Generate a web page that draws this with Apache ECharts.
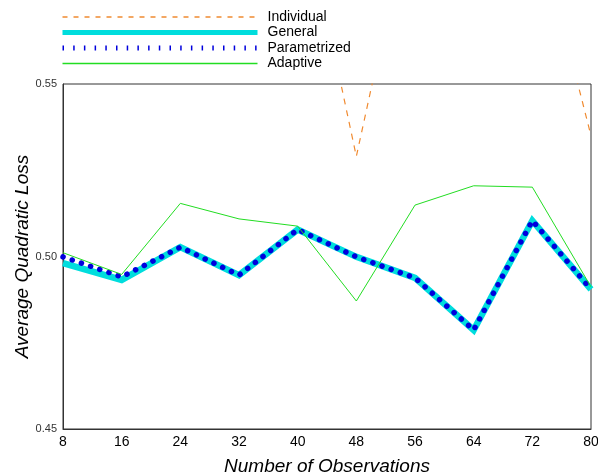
<!DOCTYPE html>
<html>
<head>
<meta charset="utf-8">
<script src="https://cdn.jsdelivr.net/npm/echarts@6/dist/echarts.min.js"></script>
<style>
  html, body { margin: 0; padding: 0; background: #fff; }
  #chart { width: 598px; height: 475px; }
</style>
</head>
<body>
<div id="chart"></div>
<script>
// Number of observations on the x axis
var observations = [8, 16, 24, 32, 40, 48, 56, 64, 72, 80];

// Average quadratic loss per method
var individual   = [0.620, 0.600, 0.610, 0.600, 0.609, 0.529, 0.607, 0.600, 0.602, 0.535];
var general      = [0.4981, 0.4932, 0.5027, 0.4946, 0.5078, 0.4999, 0.4938, 0.4787, 0.5104, 0.4905];
var parametrized = [0.4999, 0.4941, 0.5027, 0.4946, 0.5078, 0.4999, 0.4938, 0.4787, 0.5104, 0.4905];
var adaptive     = [0.5011, 0.4948, 0.5154, 0.5109, 0.5088, 0.4871, 0.5149, 0.5205, 0.5201, 0.4912];

var yTicks = [0.45, 0.50, 0.55];

var colors = { individual: '#f08a30', general: '#00dddd', parametrized: '#0000dd', adaptive: '#22dd22' };

function pairs(values) {
  return observations.map(function (x, i) { return [x, values[i]]; });
}

var font = 'Liberation Sans, Arial, Helvetica, sans-serif';
var chart = echarts.init(document.getElementById('chart'), null, { renderer: 'canvas' });

chart.setOption({
  animation: false,
  backgroundColor: '#ffffff',
  textStyle: { fontFamily: font },
  legend: {
    orient: 'vertical',
    left: 55,
    top: 5,
    itemWidth: 195,
    itemHeight: 14,
    itemGap: 1.5,
    itemStyle: { opacity: 0 },
    textStyle: { fontSize: 14, color: '#000', fontFamily: font, padding: [0, 0, 0, 5] },
    data: [
      { name: 'Individual', lineStyle: { color: colors.individual, width: 1.3, type: [5, 6] } },
      { name: 'General', lineStyle: { color: colors.general, width: 5 } },
      { name: 'Parametrized', lineStyle: { color: colors.parametrized, width: 5, type: [1.5, 9.2], cap: 'butt' } },
      { name: 'Adaptive', lineStyle: { color: colors.adaptive, width: 1.4 } }
    ]
  },
  grid: {
    left: 63, right: 7, top: 84, bottom: 46,
    outerBoundsMode: 'none',
    show: true, borderColor: '#333', borderWidth: 1, backgroundColor: 'transparent'
  },
  xAxis: {
    type: 'value',
    min: 8, max: 80, interval: 8,
    name: 'Number of Observations',
    nameLocation: 'middle',
    nameGap: 28,
    nameMoveOverlap: false,
    nameTextStyle: { fontSize: 19, fontStyle: 'italic', color: '#000', fontFamily: font },
    axisLine: { show: true, lineStyle: { color: '#333', width: 1 } },
    axisTick: { show: false },
    splitLine: { show: false },
    axisLabel: { fontSize: 14, color: '#000', margin: 6, fontFamily: font }
  },
  yAxis: {
    type: 'value',
    min: 0.45, max: 0.55, interval: 0.05,
    name: 'Average Quadratic Loss',
    nameLocation: 'middle',
    nameGap: 31,
    nameMoveOverlap: false,
    nameTextStyle: { fontSize: 19, fontStyle: 'italic', color: '#000', fontFamily: font },
    axisLine: { show: true, lineStyle: { color: '#333', width: 1 } },
    axisTick: { show: false },
    splitLine: { show: false },
    axisLabel: {
      fontSize: 11, color: '#333', margin: 6, fontFamily: font,
      formatter: function (v) {
        for (var i = 0; i < yTicks.length; i++) {
          if (Math.abs(v - yTicks[i]) < 1e-6) return yTicks[i].toFixed(2);
        }
        return '';
      }
    }
  },
  series: [
    {
      name: 'Individual', type: 'line', data: pairs(individual),
      symbol: 'none', clip: true,
      lineStyle: { color: colors.individual, width: 1.2, type: [6, 6] },
      itemStyle: { color: colors.individual }
    },
    {
      name: 'General', type: 'line', data: pairs(general),
      symbol: 'none', clip: true,
      lineStyle: { color: colors.general, width: 6.5, join: 'miter' },
      itemStyle: { color: colors.general }
    },
    {
      name: 'Parametrized', type: 'line', data: pairs(parametrized),
      symbol: 'none', clip: true,
      lineStyle: { color: colors.parametrized, width: 5.5, type: [0.1, 9.6], cap: 'round' },
      itemStyle: { color: colors.parametrized }
    },
    {
      name: 'Adaptive', type: 'line', data: pairs(adaptive),
      symbol: 'none', clip: true,
      lineStyle: { color: colors.adaptive, width: 1 },
      itemStyle: { color: colors.adaptive }
    }
  ]
});
</script>
</body>
</html>
